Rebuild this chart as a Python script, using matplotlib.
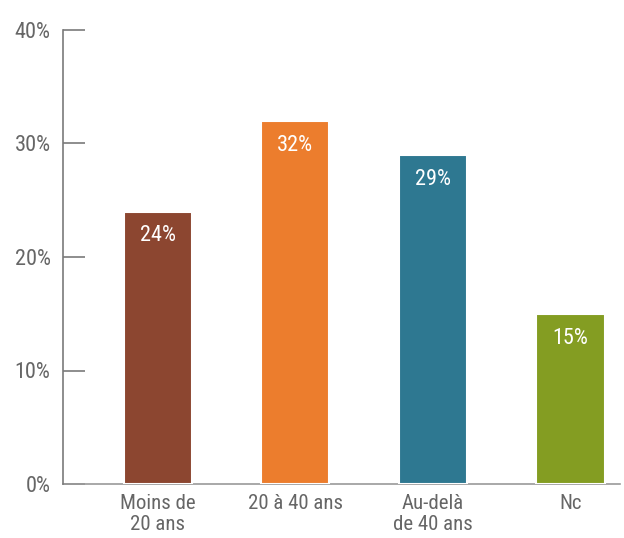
import matplotlib
matplotlib.use("Agg")
import matplotlib.pyplot as plt
from matplotlib import font_manager

categories = ["Moins de\n20 ans", "20 à 40 ans", "Au-delà\nde 40 ans", "Nc"]
values = [24, 32, 29, 15]
bar_labels = ["24%", "32%", "29%", "15%"]
bar_colors = ["#8C4630", "#EC7D2D", "#2E7891", "#849D22"]
y_ticks = [0, 10, 20, 30, 40]
y_tick_labels = ["0%", "10%", "20%", "30%", "40%"]

available = {f.name for f in font_manager.fontManager.ttflist}
preferred = ["Roboto Condensed", "Open Sans Condensed", "Liberation Sans Narrow",
             "Noto Sans Condensed", "Roboto", "DejaVu Sans"]
family = next(f for f in preferred if f in available or f == "DejaVu Sans")
plt.rcParams["font.family"] = [family, "DejaVu Sans"]
condensed = family not in ("Roboto", "DejaVu Sans")
fs = 15 if condensed else 14

fig = plt.figure(figsize=(6.24, 5.38), dpi=100)
ax = fig.add_axes([63 / 624, 54 / 538, 557 / 624, 454 / 538])

x = list(range(len(categories)))
ax.bar(x, values, width=0.495, color=bar_colors, edgecolor="white",
       linewidth=1.5, zorder=3)

for xi, v, lab in zip(x, values, bar_labels):
    ax.annotate(lab, (xi, v), xytext=(0, -10), textcoords="offset points",
                ha="center", va="top", color="white", fontsize=fs + 1, zorder=4)

ax.set_xlim(-0.69, 3.36)
ax.set_ylim(0, 40)
ax.set_yticks(y_ticks)
ax.set_yticklabels(y_tick_labels)
ax.set_xticks(x)
ax.set_xticklabels(categories, linespacing=1.15)

for side in ("top", "right"):
    ax.spines[side].set_visible(False)
ax.spines["left"].set_color("#7a7a7a")
ax.spines["left"].set_linewidth(1.2)
ax.spines["bottom"].set_color("#9a9a9a")
ax.spines["bottom"].set_linewidth(1.2)
ax.spines["bottom"].set_zorder(2)

ax.tick_params(axis="y", direction="in", length=16, width=1.2, color="#7a7a7a",
               pad=9, labelsize=fs + 1, labelcolor="#666666")
ax.tick_params(axis="x", length=0, pad=7, labelsize=fs, labelcolor="#666666")

fig.savefig("out.png", dpi=100, facecolor="white")
